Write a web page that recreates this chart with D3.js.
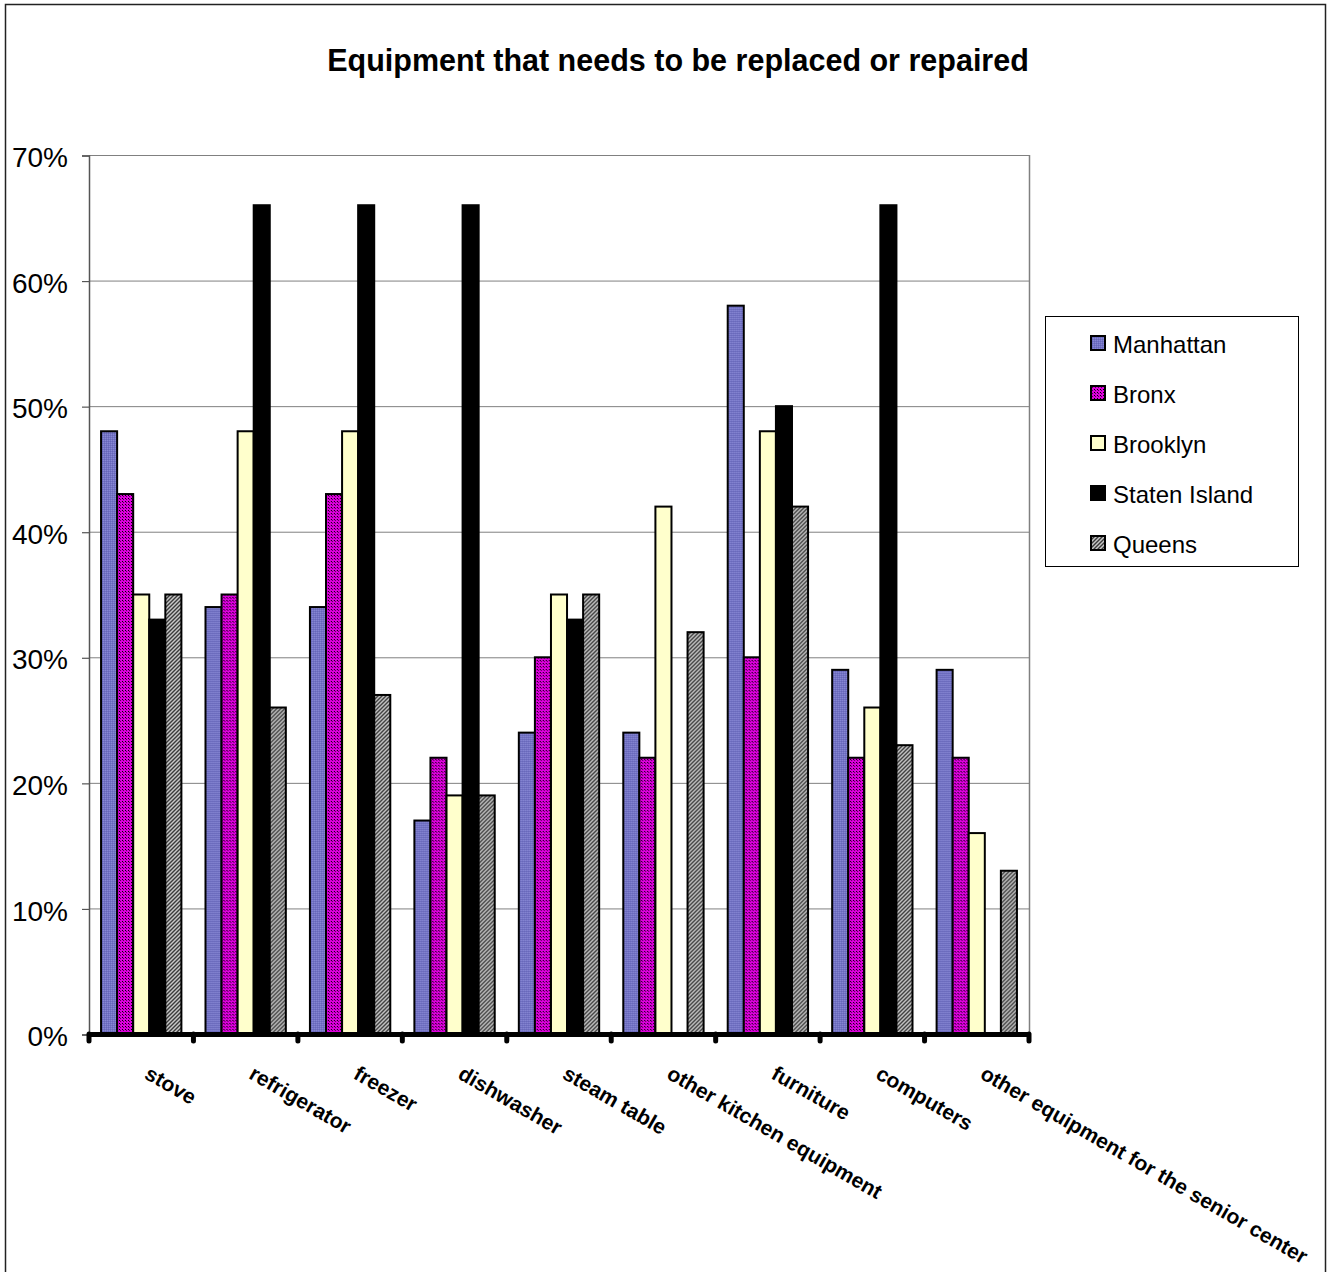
<!DOCTYPE html>
<html>
<head>
<meta charset="utf-8">
<script src="https://cdn.jsdelivr.net/npm/d3@7"></script>
<style>
  body { margin: 0; background: #fff; }
  svg { display: block; font-family: "Liberation Sans", Arial, sans-serif; }
</style>
</head>
<body>
<svg id="chart" width="1328" height="1272"></svg>
<script>
const categories = ["stove", "refrigerator", "freezer", "dishwasher", "steam table",
  "other kitchen equipment", "furniture", "computers", "other equipment for the senior center"];
const seriesNames = ["Manhattan", "Bronx", "Brooklyn", "Staten Island", "Queens"];
const manhattan = [48, 34, 34, 17, 24, 24, 58, 29, 29];
const bronx     = [43, 35, 43, 22, 30, 22, 30, 22, 22];
const brooklyn  = [35, 48, 48, 19, 35, 42, 48, 26, 16];
const statenIsland = [33, 66, 66, 66, 33, 0, 50, 66, 0];
const queens    = [35, 26, 27, 19, 35, 32, 42, 23, 13];
const yTicks = [0, 10, 20, 30, 40, 50, 60, 70];
const seriesValues = [manhattan, bronx, brooklyn, statenIsland, queens];

(function () {
const svg = d3.select("#chart");
const defs = svg.append("defs");

// Patterns
const pM = defs.append("pattern").attr("id", "pM").attr("patternUnits", "userSpaceOnUse")
  .attr("width", 2).attr("height", 2);
pM.append("rect").attr("width", 2).attr("height", 2).attr("fill", "#7373c4");
pM.append("rect").attr("width", 1).attr("height", 1).attr("fill", "#8888d4");
pM.append("rect").attr("x", 1).attr("y", 1).attr("width", 1).attr("height", 1).attr("fill", "#6666b8");

const pB = defs.append("pattern").attr("id", "pB").attr("patternUnits", "userSpaceOnUse")
  .attr("width", 3).attr("height", 3);
pB.append("rect").attr("width", 3).attr("height", 3).attr("fill", "#dd00dd");
pB.append("rect").attr("width", 1).attr("height", 1).attr("fill", "#000");
pB.append("rect").attr("x", 1).attr("y", 1).attr("width", 1).attr("height", 1).attr("fill", "#550055");

const pQ = defs.append("pattern").attr("id", "pQ").attr("patternUnits", "userSpaceOnUse")
  .attr("width", 4).attr("height", 4);
pQ.append("rect").attr("width", 4).attr("height", 4).attr("fill", "#c8c8c8");
pQ.append("path").attr("d", "M-1,1 L1,-1 M0,4 L4,0 M3,5 L5,3")
  .attr("stroke", "#3a3a3a").attr("stroke-width", 1.4);

const fills = ["url(#pM)", "url(#pB)", "#ffffcc", "#000000", "url(#pQ)"];

// Outer frame
svg.append("rect").attr("x", 5.5).attr("y", 4.5).attr("width", 1320).attr("height", 1290)
  .attr("fill", "none").attr("stroke", "#222").attr("stroke-width", 1.5);

const pLeft = 89, pRight = 1029, pTop = 155, pBottom = 1034;

const x = d3.scaleBand().domain(categories).range([pLeft, pRight]).paddingInner(0).paddingOuter(0);
const x1 = d3.scaleBand().domain(seriesNames).range([0, x.bandwidth()])
  .paddingInner(0).paddingOuter(0.75);
const y = d3.scaleLinear().domain([0, 70]).range([pBottom, pTop]);

// Title
svg.append("text").attr("x", 678).attr("y", 71).attr("text-anchor", "middle")
  .attr("font-size", 30.5).attr("font-weight", "bold").text("Equipment that needs to be replaced or repaired");

// Gridlines
svg.append("g").selectAll("line").data(yTicks.filter(d => d > 0)).join("line")
  .attr("x1", pLeft).attr("x2", pRight)
  .attr("y1", d => y(d) + 0.5).attr("y2", d => y(d) + 0.5)
  .attr("stroke", "#808080").attr("stroke-width", 1);
svg.append("line").attr("x1", pRight + 0.5).attr("x2", pRight + 0.5).attr("y1", pTop).attr("y2", pBottom)
  .attr("stroke", "#808080").attr("stroke-width", 1.5);

// Y axis
const yAxis = d3.axisLeft(y).tickValues(yTicks).tickFormat(d => d + "%").tickSize(7).tickPadding(14);
const gy = svg.append("g").attr("transform", `translate(${pLeft},0.5)`).call(yAxis);
gy.select(".domain").attr("stroke", "#555").attr("stroke-width", 1.5);
gy.selectAll(".tick line").attr("stroke", "#555").attr("stroke-width", 1.2);
gy.selectAll(".tick text").attr("font-size", 28).attr("fill", "#000").attr("dy", "0.4em")
  .attr("font-family", "'Liberation Sans', Arial, sans-serif");

// Bars
const groups = svg.append("g").selectAll("g").data(categories).join("g")
  .attr("transform", d => `translate(${x(d)},0)`);
groups.selectAll("rect").data((d, i) => seriesNames.map((s, j) => ({ s, j, v: seriesValues[j][i] })))
  .join("rect")
  .attr("x", d => x1(d.s))
  .attr("width", x1.bandwidth())
  .attr("y", d => y(d.v))
  .attr("height", d => y(0) - y(d.v))
  .attr("fill", d => fills[d.j])
  .attr("stroke", "#000").attr("stroke-width", 2);

// X axis (thick black)
const xAxis = d3.axisBottom(x).tickSize(0).tickFormat("");
const gx = svg.append("g").attr("transform", `translate(0,${pBottom})`).call(xAxis);
gx.select(".domain").attr("stroke", "#000").attr("stroke-width", 5);
const boundaries = categories.map(c => x(c)).concat([pRight]);
gx.selectAll(".bt").data(boundaries).join("line").attr("class", "bt")
  .attr("x1", d => d).attr("x2", d => d).attr("y1", 0).attr("y2", 7)
  .attr("stroke", "#000").attr("stroke-width", 5).attr("stroke-linecap", "round");

// Category labels (rotated)
svg.append("g").selectAll("text").data(categories).join("text")
  .attr("transform", d => `translate(${x(d) + x.bandwidth() / 2 + 10},${1064}) rotate(30)`)
  .attr("dy", "0.75em")
  .attr("font-size", 21).attr("font-weight", "bold").attr("text-anchor", "start")
  .text(d => d);

// Legend
const lg = svg.append("g");
lg.append("rect").attr("x", 1045.5).attr("y", 316.5).attr("width", 253).attr("height", 250)
  .attr("fill", "#fff").attr("stroke", "#000").attr("stroke-width", 1);
const li = lg.selectAll("g.item").data(seriesNames).join("g").attr("class", "item")
  .attr("transform", (d, i) => `translate(1091,${336 + i * 50})`);
li.append("rect").attr("width", 14).attr("height", 14)
  .attr("fill", (d, i) => fills[i]).attr("stroke", "#000").attr("stroke-width", 2);
li.append("text").attr("x", 22).attr("y", 17).attr("font-size", 24).text(d => d);
})();
</script>
</body>
</html>
